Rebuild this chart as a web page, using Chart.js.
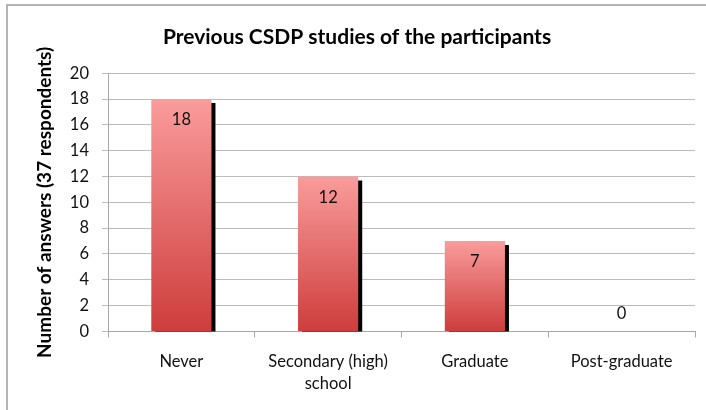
<!DOCTYPE html>
<html>
<head>
<meta charset="utf-8">
<script src="https://cdn.jsdelivr.net/npm/chart.js@4"></script>
<style>
  html, body { margin: 0; padding: 0; background: #fff; }
  #moldura { position: relative; width: 706px; height: 410px; }
  #borda {
    position: absolute; left: 6px; top: 4px; right: 0; bottom: 0;
    border-top: 2px solid #b4b4b4; border-left: 2px solid #b4b4b4;
  }
  #grafico { position: absolute; left: 0; top: 0; }
</style>
</head>
<body>
<div id="moldura">
  <div id="borda"></div>
  <canvas id="grafico" width="706" height="410"></canvas>
</div>
<script>
// Dados do gráfico
var categorias = ['Never', ['Secondary (high)', 'school'], 'Graduate', 'Post-graduate'];
var respostas = [18, 12, 7, 0];
var marcasEixoY = [0, 2, 4, 6, 8, 10, 12, 14, 16, 18, 20];

var fonte = 'Lato, "Open Sans", sans-serif';

// Degradê de cada barra, do topo (rosa claro) até a base (vermelho)
function corDaBarra(contexto) {
  var chart = contexto.chart;
  var eixoY = chart.scales.y;
  if (!eixoY || !contexto.parsed) return '#e06060';
  var topo = eixoY.getPixelForValue(contexto.parsed.y);
  var base = eixoY.getPixelForValue(0);
  if (!isFinite(topo) || !isFinite(base) || base - topo < 1) return '#f99a99';
  var grad = chart.ctx.createLinearGradient(0, topo, 0, base);
  grad.addColorStop(0, '#f99c9b');
  grad.addColorStop(1, '#cd3d3c');
  return grad;
}

// Sombra preta deslocada atrás das barras
var sombraBarras = {
  id: 'sombraBarras',
  beforeDatasetDraw: function (chart) {
    var ctx = chart.ctx;
    ctx.save();
    ctx.shadowColor = '#000';
    ctx.shadowOffsetX = 4;
    ctx.shadowOffsetY = 4;
    ctx.shadowBlur = 0;
  },
  afterDatasetDraw: function (chart) {
    chart.ctx.restore();
  }
};

// Valores escritos dentro das barras
var rotulosValores = {
  id: 'rotulosValores',
  afterDatasetsDraw: function (chart) {
    var ctx = chart.ctx;
    var meta = chart.getDatasetMeta(0);
    ctx.save();
    ctx.font = '16.5px ' + fonte;
    ctx.fillStyle = '#111';
    ctx.textAlign = 'center';
    ctx.textBaseline = 'middle';
    meta.data.forEach(function (barra, i) {
      var valor = respostas[i];
      var y = valor > 0 ? barra.y + 21 : barra.base - 18;
      ctx.fillText(String(valor), barra.x, y);
    });
    ctx.restore();
  }
};

let dados = {
  labels: categorias,
  datasets: [{
    label: 'Respostas',
    data: respostas,
    backgroundColor: corDaBarra,
    borderWidth: 0,
    categoryPercentage: 1,
    barPercentage: 0.41,
    clip: 0
  }]
};

const config = {
  type: 'bar',
  data: dados,
  plugins: [sombraBarras, rotulosValores],
  options: {
    responsive: false,
    animation: false,
    layout: { padding: { left: 19, right: 11, top: 0, bottom: 2 } },
    plugins: {
      legend: { display: false },
      tooltip: { enabled: false },
      title: {
        display: true,
        text: 'Previous CSDP studies of the participants',
        color: '#000',
        font: { family: fonte, size: 21, weight: 'bold' },
        padding: { top: 25, bottom: 23 }
      }
    },
    scales: {
      x: {
        grid: {
          offset: true,
          drawOnChartArea: false,
          drawTicks: true,
          tickLength: 6,
          color: '#a8a8a8'
        },
        border: { color: '#a8a8a8', width: 1 },
        ticks: {
          color: '#111',
          padding: 13,
          font: { family: fonte, size: 16.5, lineHeight: 1.35 },
          maxRotation: 0,
          autoSkip: false
        }
      },
      y: {
        min: 0,
        max: 20,
        afterBuildTicks: function (eixo) {
          eixo.ticks = marcasEixoY.map(function (v) { return { value: v }; });
        },
        afterFit: function (eixo) {
          eixo.width = 89;
        },
        grid: {
          color: '#bcbcbc',
          drawTicks: true,
          tickLength: 6
        },
        border: { color: '#a8a8a8', width: 1 },
        ticks: {
          color: '#111',
          padding: 13,
          font: { family: fonte, size: 16.5 }
        },
        title: {
          display: true,
          text: 'Number of answers (37 respondents)',
          color: '#000',
          font: { family: fonte, size: 19, weight: 'bold' },
          padding: { top: 14, bottom: 0 }
        }
      }
    }
  }
};

let meuGrafico = new Chart(
  document.getElementById('grafico'),
  config
);
</script>
</body>
</html>
